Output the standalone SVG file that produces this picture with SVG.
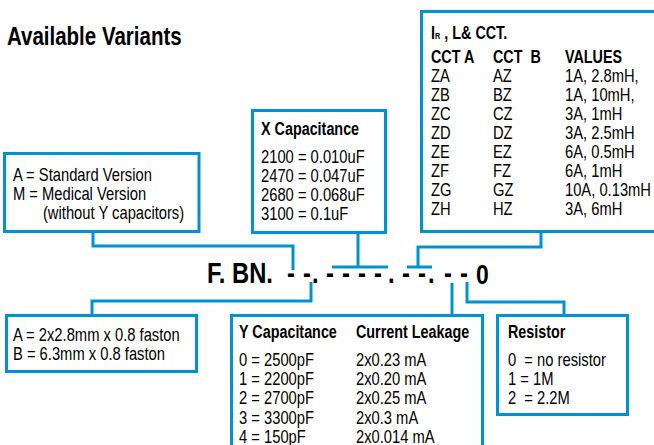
<svg xmlns="http://www.w3.org/2000/svg" width="654" height="445" viewBox="0 0 654 445">
<style>
.box{fill:#fff;stroke:#0093d3;stroke-width:3}
.ln{fill:none;stroke:#0093d3;stroke-width:3}
text{font-family:"Liberation Sans",Arial,sans-serif;fill:#000}
.t{font-size:18px}
.b{font-size:17.5px;font-weight:bold}
.title{font-size:25px;font-weight:bold}
.code{font-size:29px;font-weight:bold}
</style>
<rect width="654" height="445" fill="#fff"/>
<g transform="scale(0.82,1)"><text class="title" x="8.5" y="45">Available Variants</text></g>

<g id="connectors">
<polyline class="ln" points="93,231 93,246 293,246 293,270"/>
<polyline class="ln" points="358,232 358,267"/>
<polyline class="ln" points="332,267 388,267"/>
<polyline class="ln" points="541,231 541,247 418,247 418,267"/>
<polyline class="ln" points="407,267 432,267"/>
<polyline class="ln" points="311,282 311,301 92,301 92,315"/>
<polyline class="ln" points="452,283 452,315"/>
<polyline class="ln" points="467,282 467,302 564,302 564,315"/>
</g>

<g id="code" transform="scale(0.82,1)">
<text class="code" x="252.4" y="283">F. BN.</text>
<text class="code" y="283"><tspan x="350 369.5 380.5">--.</tspan><tspan x="397.6 417.1 436.6 456.1 473.2">----.</tspan><tspan x="490.2 509.8 522">--.</tspan><tspan x="541.5 561">--</tspan></text>
<text x="580.5" y="284" style="font-size:28px;font-weight:bold">0</text>
</g>

<g id="node-version">
<rect class="box" x="4.5" y="153.5" width="194.5" height="78"/>
<g transform="scale(0.82,1)">
<text class="t" x="15.85" y="181">A = Standard Version</text>
<text class="t" x="15.85" y="200">M = Medical Version</text>
<text class="t" x="52.4" y="219">(without Y capacitors)</text>
</g>
</g>

<g id="node-xcap">
<rect class="box" x="252.5" y="110.5" width="133" height="122"/>
<g transform="scale(0.82,1)">
<text class="b" x="318.3" y="135">X Capacitance</text>
<text class="t" x="318.3" y="163">2100 = 0.010uF</text>
<text class="t" x="318.3" y="182">2470 = 0.047uF</text>
<text class="t" x="318.3" y="201">2680 = 0.068uF</text>
<text class="t" x="318.3" y="220">3100 = 0.1uF</text>
</g>
</g>

<g id="node-ir">
<rect class="box" x="421.5" y="11.5" width="240" height="220"/>
<g transform="scale(0.82,1)">
<text class="b" x="525.6" y="39">I<tspan style="font-size:9px">R</tspan> , L&amp; CCT.</text>
<text class="b" x="525.6" y="63">CCT A</text>
<text class="b" x="601.2" y="63" xml:space="preserve">CCT  B</text>
<text class="b" x="689" y="63">VALUES</text>
<text class="t" x="525.6" y="82">ZA</text><text class="t" x="601.2" y="82">AZ</text><text class="t" x="689" y="82">1A, 2.8mH,</text>
<text class="t" x="525.6" y="101">ZB</text><text class="t" x="601.2" y="101">BZ</text><text class="t" x="689" y="101">1A, 10mH,</text>
<text class="t" x="525.6" y="120">ZC</text><text class="t" x="601.2" y="120">CZ</text><text class="t" x="689" y="120">3A, 1mH</text>
<text class="t" x="525.6" y="139">ZD</text><text class="t" x="601.2" y="139">DZ</text><text class="t" x="689" y="139">3A, 2.5mH</text>
<text class="t" x="525.6" y="158">ZE</text><text class="t" x="601.2" y="158">EZ</text><text class="t" x="689" y="158">6A, 0.5mH</text>
<text class="t" x="525.6" y="177">ZF</text><text class="t" x="601.2" y="177">FZ</text><text class="t" x="689" y="177">6A, 1mH</text>
<text class="t" x="525.6" y="196">ZG</text><text class="t" x="601.2" y="196">GZ</text><text class="t" x="689" y="196">10A, 0.13mH</text>
<text class="t" x="525.6" y="215">ZH</text><text class="t" x="601.2" y="215">HZ</text><text class="t" x="689" y="215">3A, 6mH</text>
</g>
</g>

<g id="node-faston">
<rect class="box" x="6.5" y="315.5" width="190" height="56"/>
<g transform="scale(0.82,1)">
<text class="t" x="15.85" y="341">A = 2x2.8mm x 0.8 faston</text>
<text class="t" x="15.85" y="360">B = 6.3mm x 0.8 faston</text>
</g>
</g>

<g id="node-ycap">
<rect class="box" x="231.5" y="315.5" width="251" height="140"/>
<g transform="scale(0.82,1)">
<text class="b" x="291.5" y="338">Y Capacitance</text>
<text class="b" x="434.1" y="338">Current Leakage</text>
<text class="t" x="291.5" y="366">0 = 2500pF</text><text class="t" x="434.1" y="366">2x0.23 mA</text>
<text class="t" x="291.5" y="385">1 = 2200pF</text><text class="t" x="434.1" y="385">2x0.20 mA</text>
<text class="t" x="291.5" y="404">2 = 2700pF</text><text class="t" x="434.1" y="404">2x0.25 mA</text>
<text class="t" x="291.5" y="424">3 = 3300pF</text><text class="t" x="434.1" y="424">2x0.3 mA</text>
<text class="t" x="291.5" y="443">4 = 150pF</text><text class="t" x="434.1" y="443">2x0.014 mA</text>
</g>
</g>

<g id="node-resistor">
<rect class="box" x="497.5" y="315.5" width="130" height="99"/>
<g transform="scale(0.82,1)">
<text class="b" x="619.5" y="338">Resistor</text>
<text class="t" x="619.5" y="366" xml:space="preserve">0  = no resistor</text>
<text class="t" x="619.5" y="385">1 = 1M</text>
<text class="t" x="619.5" y="404" xml:space="preserve">2  = 2.2M</text>
</g>
</g>
</svg>
